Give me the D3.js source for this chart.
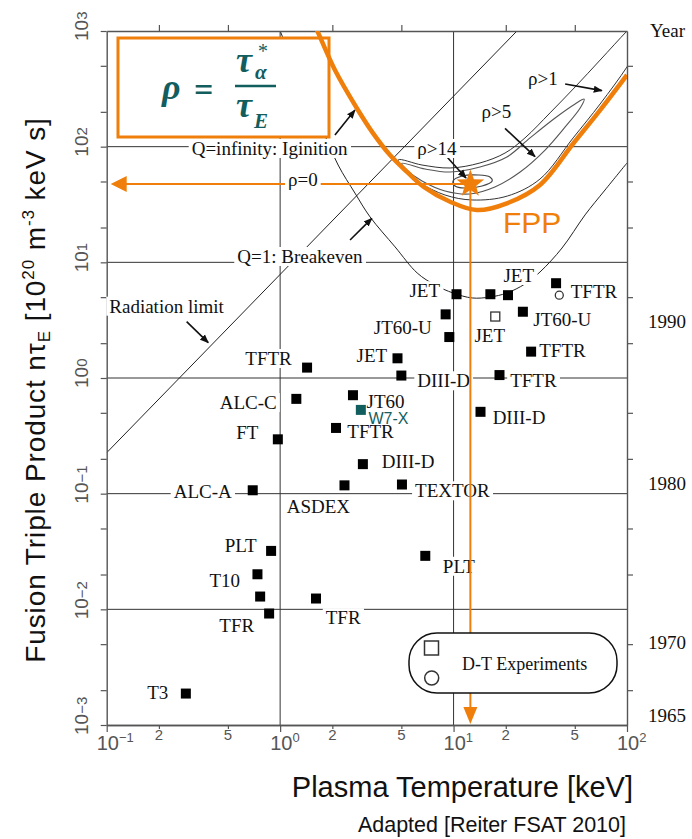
<!DOCTYPE html>
<html>
<head>
<meta charset="utf-8">
<script src="https://cdn.jsdelivr.net/npm/d3@7"></script>
<style>
  body { margin: 0; background: #fff; }
  text { font-family: "Liberation Serif", "Times New Roman", serif; }
</style>
</head>
<body>
<div id="chart"></div>
<script>
// ---- data (T in keV, n T tau_E in 1e20 m^-3 keV s) ----
const machines = [
    [1.43, 1.23], [1.24, 0.66], [2.63, 0.71], [2.1, 0.37], [0.97, 0.295],
    [3.0, 0.18], [2.35, 0.118], [0.695, 0.107], [10.4, 5.3], [16.3, 5.3],
    [20.6, 5.2], [39, 6.6], [9.0, 3.55], [25.1, 3.74], [9.45, 2.26],
    [28, 1.69], [4.75, 1.48], [5.0, 1.05], [18.4, 1.06], [14.3, 0.51],
    [5.04, 0.12], [0.887, 0.032], [0.74, 0.0201], [0.767, 0.0129], [0.864, 0.0092],
    [1.61, 0.0124], [0.286, 0.00187], [6.87, 0.029]
];
const w7x = [2.92, 0.53];
const dtSquares = [[17.4, 3.4]];
const dtCircles = [[40.7, 5.2]];

// label text, T, nT of the text anchor, anchor side
const machineLabels = [
    ["TFTR", 1.167, 1.295, "end"], ["ALC-C", 0.956, 0.539, "end"], ["FT", 0.749, 0.297, "end"],
    ["ALC-A", 0.526, 0.0923, "end"], ["ASDEX", 1.092, 0.0676, "start"], ["JT60", 3.15, 0.551, "start"],
    ["TFTR", 2.44, 0.301, "start"], ["DIII-D", 3.85, 0.1657, "start"], ["TEXTOR", 6.0, 0.093, "start"],
    ["JET", 8.36, 4.99, "end"], ["JET", 19.4, 6.76, "start"], ["TFTR", 47.4, 4.95, "start"],
    ["JT60-U", 7.49, 2.40, "end"], ["JET", 13.2, 2.06, "start"], ["JT60-U", 28.8, 2.83, "start"],
    ["JET", 4.14, 1.383, "end"], ["TFTR", 31.2, 1.528, "start"], ["DIII-D", 6.18, 0.831, "start"],
    ["TFTR", 21.2, 0.831, "start"], ["DIII-D", 16.8, 0.40, "start"], ["PLT", 0.733, 0.0315, "end"],
    ["T10", 0.587, 0.0155, "end"], ["TFR", 0.446, 0.00641, "start"], ["TFR", 1.833, 0.00743, "start"],
    ["T3", 0.2266, 0.00168, "end"], ["PLT", 8.67, 0.0207, "start"],
    ["Radiation limit", 0.1035, 3.67, "start"], ["Q=infinity: Iginition", 0.309, 84.7, "start"],
    ["Q=1: Breakeven", 0.566, 9.87, "start"], ["ρ>14", 6.18, 84.7, "start"],
    ["ρ>5", 14.5, 176, "start"], ["ρ>1", 26.9, 341, "start"]
];
const w7xLabel = ["W7-X", 3.23, 0.40];
const rho0Label = ["ρ=0", 1.11, 45.7];

// curves
const radiationLimit = [[0.1, 0.226], [23.2, 1000]];
const breakeven = [
    [1.0, 1000], [1.30, 392], [1.70, 157], [2.16, 69.4], [2.70, 39.7], [3.30, 24.7],
    [4.60, 13.6], [6.17, 8.09], [7.82, 6.37], [9.94, 5.43], [12.8, 4.92], [16.2, 5.01],
    [20.3, 5.43], [25.8, 6.50], [31.5, 8.25], [42.2, 13.3], [57.3, 25.7], [74.7, 42.2], [100, 72.3]
];
const ignitionFPP = [
    [1.53, 1245], [1.63, 1020], [2.07, 460], [2.77, 215], [3.43, 131], [4.30, 84.7],
    [5.37, 60.8], [6.70, 45.1], [9.55, 33.4], [13.6, 28.3], [20.3, 32.4], [31.5, 46.7],
    [49.1, 107], [70.0, 207], [100, 417]
];
// rho > 1 boundary: from the top right corner, round the left tip, back up along the FPP curve
const rho1 = [
    [119, 1295], [100, 1000], [70.0, 561], [50.2, 328], [36.0, 196], [25.8, 119],
    [19.8, 88.1], [14.2, 72.3], [9.55, 65.4], [6.58, 69.4], [4.79, 76.7], [5.25, 60.4],
    [6.41, 48.5], [8.93, 38.2], [12.8, 34.6], [20.4, 37.4], [31.5, 52.5], [48.9, 119],
    [70.0, 234], [100, 489], [119, 757]
];
const rho5 = [
    [5.03, 71.8], [6.85, 64.1], [9.55, 60.4], [14.2, 66.7], [20.3, 81.4], [27.6, 119],
    [38.5, 177], [50.2, 234], [56.6, 258], [53.7, 216], [44.0, 148], [33.7, 93.5],
    [24.2, 60.4], [17.3, 44.8], [12.4, 39.0], [8.93, 41.4], [6.58, 50.5], [5.39, 62.8]
];
const rho14 = [
    [9.93, 50.5], [11.2, 55.7], [13.9, 56.9], [16.2, 54.7], [16.7, 50.5],
    [14.6, 45.7], [11.6, 43.9], [10.2, 45.7]
];
// arrows: [from, to]
const arrows = [
    [[0.289, 3.07], [0.385, 2.02]],
    [[2.07, 126], [2.70, 207]],
    [[2.53, 15.6], [3.38, 24.0]],
    [[44.0, 348], [71.6, 305]],
    [[19.8, 144], [29.5, 81.9]],
    [[9.14, 81.9], [11.8, 53.6]]
];
const fppPoint = [12.5, 47.5];

// axis ticks
const decadesX = [0.1, 1, 10, 100];
const minorX = [0.2, 0.5, 2, 5, 20, 50];
const decadesY = [1e-3, 1e-2, 1e-1, 1, 10, 100, 1000];
const minorY = [2e-3, 5e-3, 2e-2, 5e-2, 0.2, 0.5, 2, 5, 20, 50, 200, 500];
const gridY = [1e-2, 1e-1, 1, 10, 100];
const gridX = [1, 10];
const years = [["1990", 3.11], ["1980", 0.124], ["1970", 0.0052], ["1965", 0.00122]];

// ---- drawing ----
const W = 692, H = 839;
const orange = "#ef7f0a";
const teal = "#125e5e";
const serif = "'Liberation Serif', 'Times New Roman', serif";
const sans = "'Liberation Sans', Arial, sans-serif";

const svg = d3.select("#chart").append("svg")
    .attr("width", W).attr("height", H)
    .style("background", "#fff");

const x = d3.scaleLog().domain([0.1, 100]).range([106.7, 627]);
const y = d3.scaleLog().domain([1e-3, 1e3]).range([725, 31]);
const [x0, x1] = x.range();
const [y0, y1] = y.range();

const defs = svg.append("defs");
defs.append("clipPath").attr("id", "plot")
    .append("rect").attr("x", x0).attr("y", y1).attr("width", x1 - x0).attr("height", y0 - y1);

const line = d3.line().x(d => x(d[0])).y(d => y(d[1]));
const smooth = d3.line().x(d => x(d[0])).y(d => y(d[1])).curve(d3.curveCatmullRom);
const loop = d3.line().x(d => x(d[0])).y(d => y(d[1])).curve(d3.curveCatmullRomClosed);

// gridlines
const grid = svg.append("g").attr("stroke", "#333").attr("stroke-width", 1);
grid.selectAll("line.h").data(gridY).enter().append("line")
    .attr("x1", x0).attr("x2", x1).attr("y1", d => y(d)).attr("y2", d => y(d));
grid.selectAll("line.v").data(gridX).enter().append("line")
    .attr("y1", y1).attr("y2", y0).attr("x1", d => x(d)).attr("x2", d => x(d));

// black curves
const curves = svg.append("g").attr("clip-path", "url(#plot)").attr("fill", "none");
curves.append("path").attr("d", line(radiationLimit)).attr("stroke", "#222").attr("stroke-width", 1);
curves.append("path").attr("d", smooth(breakeven)).attr("stroke", "#222").attr("stroke-width", 1);
curves.append("path").attr("d", smooth(rho1)).attr("stroke", "#333").attr("stroke-width", 1);
curves.append("path").attr("d", loop(rho5)).attr("stroke", "#555").attr("stroke-width", 1.1);
curves.append("path").attr("d", loop(rho14)).attr("stroke", "#444").attr("stroke-width", 1.1);

// black arrows
defs.append("marker").attr("id", "ah").attr("viewBox", "0 0 10 10").attr("refX", 9).attr("refY", 5)
    .attr("markerWidth", 9).attr("markerHeight", 9).attr("orient", "auto-start-reverse")
    .attr("markerUnits", "userSpaceOnUse")
    .append("path").attr("d", "M0,1 L10,5 L0,9 Z").attr("fill", "#111");
svg.append("g").selectAll("line").data(arrows).enter().append("line")
    .attr("x1", d => x(d[0][0])).attr("y1", d => y(d[0][1]))
    .attr("x2", d => x(d[1][0])).attr("y2", d => y(d[1][1]))
    .attr("stroke", "#111").attr("stroke-width", 1.6).attr("marker-end", "url(#ah)");

// axes frame + ticks
function styleAxis(g) {
    g.selectAll("path").attr("stroke", "#555").attr("stroke-width", 1.4);
    g.selectAll("line").attr("stroke", "#555").attr("stroke-width", 1.2);
}
svg.append("g").attr("transform", `translate(0,${y0})`)
    .call(d3.axisBottom(x).tickValues(decadesX).tickSize(7).tickSizeOuter(0).tickFormat(""))
    .call(styleAxis);
svg.append("g").attr("transform", `translate(0,${y0})`)
    .call(d3.axisBottom(x).tickValues(minorX).tickSize(4).tickSizeOuter(0).tickFormat(""))
    .call(styleAxis);
svg.append("g").attr("transform", `translate(0,${y1})`)
    .call(d3.axisTop(x).tickValues(minorX).tickSize(6).tickSizeOuter(0).tickFormat(""))
    .call(styleAxis);
svg.append("g").attr("transform", `translate(${x0},0)`)
    .call(d3.axisLeft(y).tickValues(decadesY.concat(minorY)).tickSize(6).tickSizeOuter(0).tickFormat(""))
    .call(styleAxis);
svg.append("g").attr("transform", `translate(${x1},0)`)
    .call(d3.axisRight(y).tickValues(minorY).tickSize(6).tickSizeOuter(0).tickFormat(""))
    .call(styleAxis);

// tick labels
const expo = d => String(Math.round(Math.log10(d))).replace("-", "−");
const tl = svg.append("g").attr("fill", "#555");
decadesX.forEach(d => {
    const t = tl.append("text").attr("x", x(d) - 10).attr("y", 750).style("font-family", sans).style("font-size", "20px");
    t.append("tspan").text("10");
    t.append("tspan").attr("dy", -8).style("font-size", "13px").text(expo(d));
});
minorX.forEach(d => {
    tl.append("text").attr("x", x(d)).attr("y", 740).attr("text-anchor", "middle")
        .style("font-family", sans).style("font-size", "15px")
        .text(Math.round(d / Math.pow(10, Math.floor(Math.log10(d) + 1e-9))));
});
decadesY.forEach(d => {
    const t = tl.append("text").attr("transform", `translate(88,${y(d)}) rotate(-90)`)
        .attr("x", -10).style("font-family", sans).style("font-size", "19px");
    t.append("tspan").text("10");
    t.append("tspan").attr("dy", -1).style("font-size", "15px").text(expo(d));
});

// formula box
const fb = svg.append("g");
fb.append("rect").attr("x", 118).attr("y", 38).attr("width", 211).attr("height", 99)
    .attr("fill", "#fff").attr("stroke", orange).attr("stroke-width", 3);
const ff = fb.append("g").attr("fill", teal).style("font-weight", "bold").style("font-style", "italic")
    .style("font-family", "'DejaVu Serif', serif");
ff.append("text").attr("x", 162).attr("y", 99).style("font-size", "36px").text("ρ");
ff.append("text").attr("x", 194).attr("y", 101).style("font-style", "normal").style("font-size", "34px").text("=");
ff.append("text").attr("x", 236).attr("y", 72).style("font-size", "36px").text("τ");
ff.append("text").attr("x", 255).attr("y", 79).style("font-size", "21px").text("α");
ff.append("text").attr("x", 257).attr("y", 58).style("font-size", "20px").style("font-weight", "normal").text("*");
ff.append("text").attr("x", 236).attr("y", 117).style("font-size", "36px").text("τ");
ff.append("text").attr("x", 254).attr("y", 128).style("font-size", "21px").text("E");
fb.append("line").attr("x1", 235).attr("x2", 276).attr("y1", 86).attr("y2", 86).attr("stroke", teal).attr("stroke-width", 2.5);

// labels with white background (they break the grid lines)
function addLabel(parent, txt, tx, ty, anchor, fill, family, size, pad) {
    const g = parent.append("g");
    const r = g.append("rect").attr("fill", "#fff");
    const t = g.append("text").attr("x", tx).attr("y", ty).attr("text-anchor", anchor)
        .attr("fill", fill).style("font-family", family).style("font-size", size).text(txt);
    const b = t.node().getBBox();
    if (pad === false) { r.remove(); return; }
    r.attr("x", b.x - 3).attr("y", b.y + 1).attr("width", b.width + 6).attr("height", b.height - 2);
}
const labels = svg.append("g");
machineLabels.forEach(d => addLabel(labels, d[0], x(d[1]), y(d[2]), d[3], "#111", serif, "19px"));

// orange FPP ignition curve and guide arrows
const og = svg.append("g").attr("clip-path", "url(#plot)");
og.append("path").attr("d", smooth(ignitionFPP)).attr("fill", "none").attr("stroke", orange).attr("stroke-width", 4.5);
og.append("line").attr("x1", x(fppPoint[0])).attr("y1", y(fppPoint[1])).attr("x2", x0 + 16).attr("y2", y(fppPoint[1]))
    .attr("stroke", orange).attr("stroke-width", 2);
og.append("path").attr("d", `M${x0 + 4},${y(fppPoint[1])} l16,-8 l0,16 Z`).attr("fill", orange);
og.append("line").attr("x1", x(fppPoint[0])).attr("y1", y(fppPoint[1])).attr("x2", x(fppPoint[0])).attr("y2", y0 - 14)
    .attr("stroke", orange).attr("stroke-width", 2);
og.append("path").attr("d", `M${x(fppPoint[0])},${y0 - 1} l-7,-17 l14,0 Z`).attr("fill", orange);

// rho = 0 label over the orange guide
addLabel(svg, rho0Label[0], x(rho0Label[1]), y(rho0Label[2]), "start", "#111", serif, "19px");

// FPP text
svg.append("text").attr("x", 503).attr("y", 233).attr("fill", orange)
    .style("font-family", sans).style("font-size", "30px").text("FPP");

// legend
const lg = svg.append("g");
lg.append("rect").attr("x", 409).attr("y", 633).attr("width", 208).attr("height", 60).attr("rx", 28)
    .attr("fill", "#fff").attr("stroke", "#111").attr("stroke-width", 1.5);
lg.append("rect").attr("x", 424.5).attr("y", 641).attr("width", 14).attr("height", 14)
    .attr("fill", "none").attr("stroke", "#333").attr("stroke-width", 1.5);
lg.append("circle").attr("cx", 431.7).attr("cy", 678).attr("r", 7)
    .attr("fill", "none").attr("stroke", "#333").attr("stroke-width", 1.5);
lg.append("text").attr("x", 462).attr("y", 670).attr("fill", "#111").style("font-size", "18px").text("D-T Experiments");

// machine points
const pts = svg.append("g");
pts.selectAll("rect.m").data(machines).enter().append("rect")
    .attr("x", d => x(d[0]) - 5).attr("y", d => y(d[1]) - 5).attr("width", 10).attr("height", 10).attr("fill", "#000");
pts.selectAll("rect.dt").data(dtSquares).enter().append("rect")
    .attr("x", d => x(d[0]) - 4.5).attr("y", d => y(d[1]) - 4.5).attr("width", 9).attr("height", 9)
    .attr("fill", "#fff").attr("stroke", "#333").attr("stroke-width", 1.3);
pts.selectAll("circle").data(dtCircles).enter().append("circle")
    .attr("cx", d => x(d[0])).attr("cy", d => y(d[1])).attr("r", 4)
    .attr("fill", "#fff").attr("stroke", "#333").attr("stroke-width", 1.3);
pts.append("rect").attr("x", x(w7x[0]) - 5).attr("y", y(w7x[1]) - 5).attr("width", 10).attr("height", 10).attr("fill", teal);
addLabel(svg, w7xLabel[0], x(w7xLabel[1]), y(w7xLabel[2]), "start", teal, sans, "16px", false);

// FPP star
const star = d3.range(10).map(i => {
    const a = -Math.PI / 2 + i * Math.PI / 5;
    const r = i % 2 === 0 ? 14.5 : 6;
    return [r * Math.cos(a), r * Math.sin(a)];
});
svg.append("path").attr("d", "M" + star.join("L") + "Z")
    .attr("transform", `translate(${x(fppPoint[0])},${y(fppPoint[1])})`).attr("fill", orange);

// year axis on the right
const yr = svg.append("g").attr("fill", "#111").style("font-size", "19px");
yr.append("text").attr("x", 650).attr("y", 37).text("Year");
years.forEach(d => {
    yr.append("text").attr("x", 648).attr("y", y(d[1])).attr("dy", "0.35em").text(d[0]);
});

// axis titles
const yt = svg.append("text").attr("transform", "translate(45,390) rotate(-90)")
    .attr("text-anchor", "middle").attr("fill", "#111").style("font-family", sans)
    .style("font-size", "28px").style("letter-spacing", "0.9px");
yt.append("tspan").text("Fusion Triple Product nτ");
yt.append("tspan").attr("dy", 5).style("font-size", "17px").text("E");
yt.append("tspan").attr("dy", -5).text(" [10");
yt.append("tspan").attr("dy", -11).style("font-size", "17px").text("20");
yt.append("tspan").attr("dy", 11).text(" m");
yt.append("tspan").attr("dy", -11).style("font-size", "17px").text("-3");
yt.append("tspan").attr("dy", 11).text(" keV s]");

svg.append("text").attr("x", 633).attr("y", 797).attr("text-anchor", "end").attr("fill", "#111")
    .style("font-family", sans).style("font-size", "29px").text("Plasma Temperature [keV]");
svg.append("text").attr("x", 626).attr("y", 832).attr("text-anchor", "end").attr("fill", "#111")
    .style("font-family", sans).style("font-size", "21.5px").text("Adapted [Reiter FSAT 2010]");
</script>
</body>
</html>
